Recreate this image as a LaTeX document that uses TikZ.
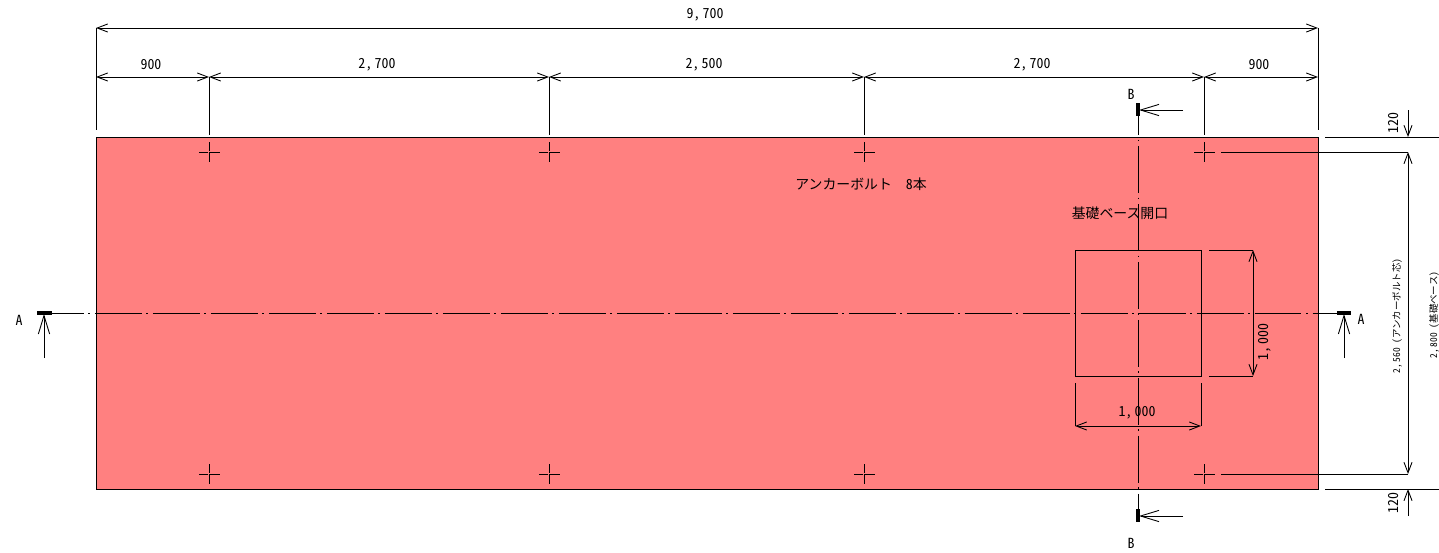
\documentclass[tikz,border=0pt]{standalone}
\usepackage{fontspec}
\setmainfont[RawFeature=+hwid]{Noto Sans CJK JP}
\usetikzlibrary{arrows.meta}
\definecolor{basered}{HTML}{FF8080}

\begin{document}
\begin{tikzpicture}[x=0.02cm,y=-0.02cm,>={Straight Barb[length=6pt,width=4.6pt]},line width=0.5pt]
\tikzset{
base/.style = {draw, fill=basered},
dimline/.style = {<->},
arrowline/.style = {->},
sectionarrow/.style = {-{Straight Barb[length=10.5pt,width=6.4pt]}},
extline/.style = {},
centerline/.style = {dash pattern=on 26.7pt off 2.6pt on 1.1pt off 2.6pt},
boltmark/.style = {dash pattern=on 5.2pt off 0.4pt on 1.1pt off 0.4pt on 5.2pt},
sectionmark/.style = {line width=2pt},
dimtext/.style = {font=\fontsize{7.9}{9}\selectfont, inner sep=0pt},
smalltext/.style = {font=\fontsize{5.4}{6}\selectfont, inner sep=0pt, rotate=90}
}
\useasboundingbox (0,0) rectangle (1439,552);

% base and opening
\draw [base] (96,137) rectangle (1318,489);
\draw (1075,250) rectangle (1201,376);

% anchor bolts
\draw [boltmark] (199,152) -- (220,152); \draw [boltmark] (209,142) -- (209,162);
\draw [boltmark] (539,152) -- (560,152); \draw [boltmark] (549,142) -- (549,162);
\draw [boltmark] (854,152) -- (875,152); \draw [boltmark] (864,142) -- (864,162);
\draw [boltmark] (1194,152) -- (1215,152); \draw [boltmark] (1204,142) -- (1204,162);
\draw [boltmark] (199,474) -- (220,474); \draw [boltmark] (209,464) -- (209,484);
\draw [boltmark] (539,474) -- (560,474); \draw [boltmark] (549,464) -- (549,484);
\draw [boltmark] (854,474) -- (875,474); \draw [boltmark] (864,464) -- (864,484);
\draw [boltmark] (1194,474) -- (1215,474); \draw [boltmark] (1204,464) -- (1204,484);

% center lines
\draw [centerline] (37,313) -- (1351,313);
\draw [centerline, dash phase=8.5pt] (1138,103) -- (1138,522);

% section marks
\draw [sectionmark] (37,313) -- (52,313);
\draw [sectionmark] (1337,313) -- (1351,313);
\draw [sectionmark] (1138,103) -- (1138,116);
\draw [sectionmark] (1138,509) -- (1138,522);
\draw [sectionarrow] (44,358) -- (44,314);
\draw [sectionarrow] (1344,358) -- (1344,314);
\draw [sectionarrow] (1183,110) -- (1139,110);
\draw [sectionarrow] (1183,516) -- (1139,516);

% top dimensions
\draw [dimline] (96,28) -- (1318,28);
\draw [dimline] (96,77) -- (209,77);
\draw [dimline] (209,77) -- (549,77);
\draw [dimline] (549,77) -- (864,77);
\draw [dimline] (864,77) -- (1204,77);
\draw [dimline] (1204,77) -- (1318,77);
\draw [extline] (96,28) -- (96,130);
\draw [extline] (1318,28) -- (1318,130);
\draw [extline] (209,77) -- (209,135);
\draw [extline] (549,77) -- (549,135);
\draw [extline] (864,77) -- (864,135);
\draw [extline] (1204,77) -- (1204,135);

% right dimensions
\draw [extline] (1325,137) -- (1439,137);
\draw [extline] (1325,489) -- (1439,489);
\draw [extline] (1221,152) -- (1408,152);
\draw [extline] (1221,474) -- (1408,474);
\draw [arrowline] (1408,110) -- (1408,137);
\draw [dimline] (1408,152) -- (1408,474);
\draw [arrowline] (1408,516) -- (1408,489);

% opening dimensions
\draw [extline] (1209,250) -- (1253,250);
\draw [extline] (1209,376) -- (1253,376);
\draw [dimline] (1253,250) -- (1253,376);
\draw [extline] (1075,383) -- (1075,426);
\draw [extline] (1201,383) -- (1201,426);
\draw [dimline] (1075,426) -- (1201,426);

% labels
\node [dimtext] (overall) at (705,15) {9,\,700};
\node [dimtext] (span1) at (151,65) {900};
\node [dimtext] (span2) at (377,65) {2,\,700};
\node [dimtext] (span3) at (704,65) {2,\,500};
\node [dimtext] (span4) at (1032,65) {2,\,700};
\node [dimtext] (span5) at (1259,65) {900};
\node [dimtext] (bolts) at (861,184) {アンカーボルト\ \ 8本};
\node [dimtext] (opening) at (1120,213) {基礎ベース開口};
\node [dimtext, rotate=90] (openheight) at (1265,342) {1,\,000};
\node [dimtext] (openwidth) at (1137,413) {1,\,000};
\node [dimtext, rotate=90] (edgetop) at (1394,123) {120};
\node [dimtext, rotate=90] (edgebottom) at (1394,503) {120};
\node [smalltext] (boltpitch) at (1397,316) {2,\,560\ （アンカーボルト芯）};
\node [smalltext] (basewidth) at (1434,315) {2,\,800\ （基礎ベース）};
\node [dimtext] (sectionAleft) at (19,320) {A};
\node [dimtext] (sectionAright) at (1361,319) {A};
\node [dimtext] (sectionBtop) at (1131,94) {B};
\node [dimtext] (sectionBbottom) at (1131,543) {B};
\end{tikzpicture}
\end{document}
